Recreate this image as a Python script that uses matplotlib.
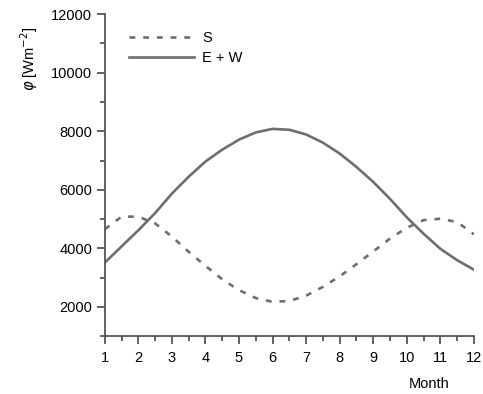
import numpy as np
import matplotlib
matplotlib.use("Agg")
import matplotlib.pyplot as plt
from matplotlib.ticker import MultipleLocator

plt.rcParams['font.family'] = ['Liberation Sans', 'DejaVu Sans']

# Data (half-month steps)
months = [1.0, 1.5, 2.0, 2.5, 3.0, 3.5, 4.0, 4.5, 5.0, 5.5, 6.0, 6.5,
          7.0, 7.5, 8.0, 8.5, 9.0, 9.5, 10.0, 10.5, 11.0, 11.5, 12.0]
phi_s = [4650, 5080, 5080, 4850, 4400, 3880, 3400, 2940, 2570, 2300, 2170, 2200,
         2380, 2680, 3040, 3455, 3890, 4330, 4700, 4960, 5010, 4900, 4480]
phi_ew = [3510, 4065, 4615, 5205, 5870, 6445, 6965, 7370, 7713, 7960, 8080, 8050,
          7890, 7610, 7240, 6780, 6270, 5690, 5060, 4500, 3985, 3595, 3270]
month_labels = [str(m) for m in range(1, 13)]

line_color = '#6e6e6e'
axis_color = '#555555'

fig = plt.figure(figsize=(4.83, 3.94), dpi=100)
ax = fig.add_axes([0.217, 0.147, 0.764, 0.817])

ax.plot(months, phi_s, linestyle=(0, (2.2, 3.0)), color=line_color, lw=1.9, label='S')
ax.plot(months, phi_ew, linestyle='-', color=line_color, lw=1.9, label='E + W')

ax.set_xlim(1, 12)
ax.set_ylim(1000, 12000)
ax.set_xticks(range(1, 13))
ax.set_xticklabels(month_labels)
ax.xaxis.set_minor_locator(MultipleLocator(0.5))
ax.yaxis.set_major_locator(MultipleLocator(2000))
ax.yaxis.set_minor_locator(MultipleLocator(1000))

for side in ['top', 'right']:
    ax.spines[side].set_visible(False)
for side in ['left', 'bottom']:
    ax.spines[side].set_color(axis_color)
    ax.spines[side].set_linewidth(1.3)

ax.tick_params(which='major', length=6, width=1.3, color=axis_color, labelsize=10.5, pad=3)
ax.tick_params(which='minor', length=3.5, width=1.3, color=axis_color)
ax.tick_params(axis='x', pad=5)

ax.set_ylabel(r'$\varphi$ [Wm$^{-2}$]', fontsize=10.5, labelpad=2)
ax.yaxis.set_label_coords(-0.175, 0.86)
ax.text(0.935, -0.15, 'Month', transform=ax.transAxes, ha='right', va='center', fontsize=10.5)

leg = ax.legend(loc='upper left', bbox_to_anchor=(0.035, 0.985), frameon=False,
                handlelength=4.4, handletextpad=0.6, fontsize=10.5, labelspacing=0.45,
                borderaxespad=0.4)

fig.savefig('out.png', dpi=100)
